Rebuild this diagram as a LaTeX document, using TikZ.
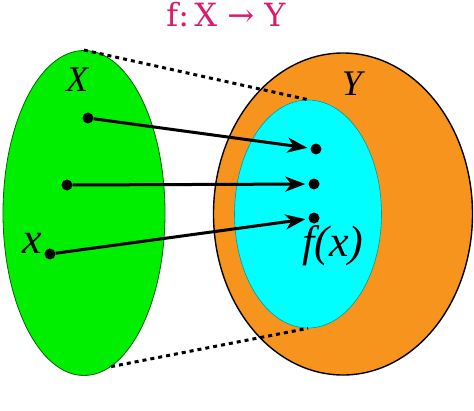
\documentclass[tikz,border=0pt]{standalone}
\usepackage{fontspec}
\setmainfont{Liberation Serif}
\newfontfamily\titlefont{DejaVu Serif}
\usetikzlibrary{arrows.meta,shapes.geometric}
\definecolor{setgreen}{RGB}{0,238,0}
\definecolor{setorange}{RGB}{247,148,30}
\definecolor{setcyan}{RGB}{0,255,255}
\definecolor{titlepink}{RGB}{214,30,110}
\tikzset{
  pt/.style={circle, fill=black, inner sep=0pt, minimum size=11pt},
  maparrow/.style={line width=3pt, -{Stealth[length=20pt,width=15pt,inset=6pt]}, shorten >=3pt},
  zoomline/.style={line width=3pt, dash pattern=on 4pt off 4pt},
  setlabel/.style={font=\fontsize{36}{40}\selectfont\itshape}
}
\begin{document}
\begin{tikzpicture}[x=1pt,y=-1pt]
		%%%%% START %%%%%
		\useasboundingbox (0,0) rectangle (474,410);
		
		\node[text=titlepink, font=\fontsize{32}{38}\selectfont] (title) at (226,15) {\titlefont f:\,X → Y};
		
		% the two sets
		\node[ellipse, draw=black!60!green, line width=0.8pt, fill=setgreen, minimum width=162pt, minimum height=325pt] (setX) at (84,213) {};
		\node[ellipse, draw=black, line width=1.4pt, fill=setorange, minimum width=259pt, minimum height=322pt] (setY) at (343,214) {};
		\node[ellipse, draw=black!40!setcyan, line width=0.6pt, fill=setcyan, minimum width=147pt, minimum height=228pt] (image) at (308,214) {};
		
		\node[setlabel] (labX) at (77,80) {X};
		\node[setlabel] (labY) at (352,84) {Y};
		\node[setlabel, font=\fontsize{44}{48}\selectfont\itshape] (labx) at (32,243) {x};
		\node[setlabel, font=\fontsize{44}{48}\selectfont\itshape] (labfx) at (333,246) {f(x)};
		
		% points
		\node[pt] (a1) at (88,118) {};
		\node[pt] (a2) at (67,185) {};
		\node[pt] (a3) at (50,254) {};
		\node[pt] (b1) at (316,149) {};
		\node[pt] (b2) at (314,184) {};
		\node[pt] (b3) at (314,218) {};
		
		\draw[maparrow] (a1) -- (b1);
		\draw[maparrow] (a2) -- (b2);
		\draw[maparrow] (a3) -- (b3);
		
		% dotted guides
		\draw[zoomline] (setX.north) -- (image.north);
		\draw[zoomline] (setX.-80) -- (image.south);
		%%%%% END %%%%%
\end{tikzpicture}
\end{document}
